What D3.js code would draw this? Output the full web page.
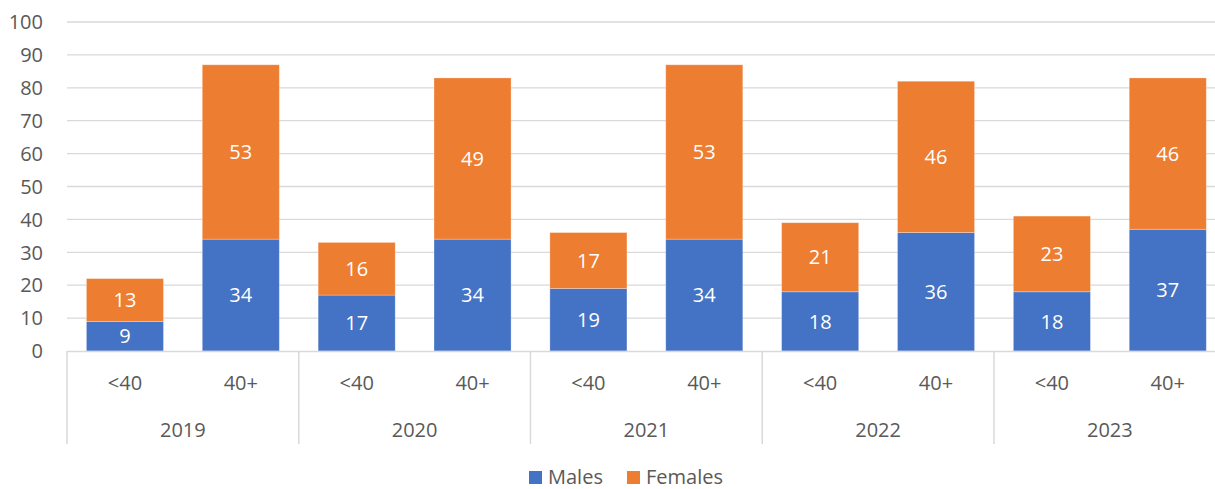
<!DOCTYPE html>
<html>
<head>
<meta charset="utf-8">
<script src="https://cdn.jsdelivr.net/npm/d3@7"></script>
<style>
  html, body { margin: 0; padding: 0; background: #fff; overflow: hidden; }
  svg { display: block; }
  text { font-family: "Open Sans", "Noto Sans", sans-serif; }
</style>
</head>
<body>
<svg id="chart" width="1215" height="489"></svg>
<script>
const years = ["2019", "2020", "2021", "2022", "2023"];
const ageGroups = ["<40", "40+"];
const males   = [9, 34, 17, 34, 19, 34, 18, 36, 18, 37];
const females = [13, 53, 16, 49, 17, 53, 21, 46, 23, 46];
const seriesNames = ["Males", "Females"];
const seriesColors = ["#4472C4", "#ED7D31"];
const yTicks = [0, 10, 20, 30, 40, 50, 60, 70, 80, 90, 100];

const svg = d3.select("#chart");
const textColor = "#595959";
const gridColor = "#D9D9D9";
const fontSize = 20;

const left = 67, right = 1225.7, y0px = 351, y100px = 22;
const axisBottom = 444;

// categories
const cats = [];
years.forEach(y => ageGroups.forEach(a => cats.push({year: y, age: a, key: y + "|" + a})));
const data = cats.map((c, i) => ({...c, males: males[i], females: females[i]}));

const x = d3.scaleBand().domain(cats.map(c => c.key)).range([left, right])
  .paddingInner(0.335).paddingOuter(0.1675);
const xYear = d3.scaleBand().domain(years).range([left, right]);
const y = d3.scaleLinear().domain([0, 100]).range([y0px, y100px]);

// gridlines
svg.append("g").selectAll("line").data(yTicks.filter(t => t > 0)).join("line")
  .attr("x1", left).attr("x2", right)
  .attr("y1", d => y(d)).attr("y2", d => y(d))
  .attr("stroke", gridColor).attr("stroke-width", 1.3);

// y axis labels
svg.append("g").selectAll("text").data(yTicks).join("text")
  .attr("x", 43).attr("y", d => y(d)).attr("dy", "0.36em")
  .attr("text-anchor", "end").attr("fill", textColor)
  .attr("font-size", fontSize).text(d => d);

// stacked bars
const stack = d3.stack().keys(["males", "females"]);
const stacked = stack(data);
const gBars = svg.append("g");
stacked.forEach((layer, si) => {
  gBars.append("g").selectAll("rect").data(layer).join("rect")
    .attr("x", d => x(d.data.key))
    .attr("width", x.bandwidth())
    .attr("y", d => y(d[1]))
    .attr("height", d => y(d[0]) - y(d[1]))
    .attr("fill", seriesColors[si])
    .attr("stroke", "#ffffff").attr("stroke-opacity", 0.35).attr("stroke-width", 0.8);
  gBars.append("g").selectAll("text").data(layer).join("text")
    .attr("x", d => x(d.data.key) + x.bandwidth() / 2)
    .attr("y", d => (y(d[0]) + y(d[1])) / 2)
    .attr("dy", "0.36em")
    .attr("text-anchor", "middle").attr("fill", "#ffffff")
    .attr("font-size", fontSize)
    .text(d => d[1] - d[0]);
});

// x axis line
svg.append("line").attr("x1", left).attr("x2", right)
  .attr("y1", y(0) + 0.5).attr("y2", y(0) + 0.5)
  .attr("stroke", gridColor).attr("stroke-width", 1.5);

// group separators
const sepX = years.map(yr => xYear(yr)).concat([right]);
svg.append("g").selectAll("line").data(sepX).join("line")
  .attr("x1", d => d).attr("x2", d => d)
  .attr("y1", y(0)).attr("y2", axisBottom)
  .attr("stroke", gridColor).attr("stroke-width", 1.5);

// inner labels
svg.append("g").selectAll("text").data(cats).join("text")
  .attr("x", d => x(d.key) + x.bandwidth() / 2)
  .attr("y", 390)
  .attr("text-anchor", "middle").attr("fill", textColor)
  .attr("font-size", fontSize).text(d => d.age);

// year labels
svg.append("g").selectAll("text").data(years).join("text")
  .attr("x", d => xYear(d) + xYear.bandwidth() / 2)
  .attr("y", 437)
  .attr("text-anchor", "middle").attr("fill", textColor)
  .attr("font-size", fontSize).text(d => d);

// legend
const legendX = [529, 627];
const lg = svg.append("g");
seriesNames.forEach((name, i) => {
  lg.append("rect").attr("x", legendX[i]).attr("y", 471)
    .attr("width", 13).attr("height", 13).attr("fill", seriesColors[i]);
  lg.append("text").attr("x", legendX[i] + 19).attr("y", 484)
    .attr("fill", textColor).attr("font-size", fontSize).text(name);
});
</script>
</body>
</html>
